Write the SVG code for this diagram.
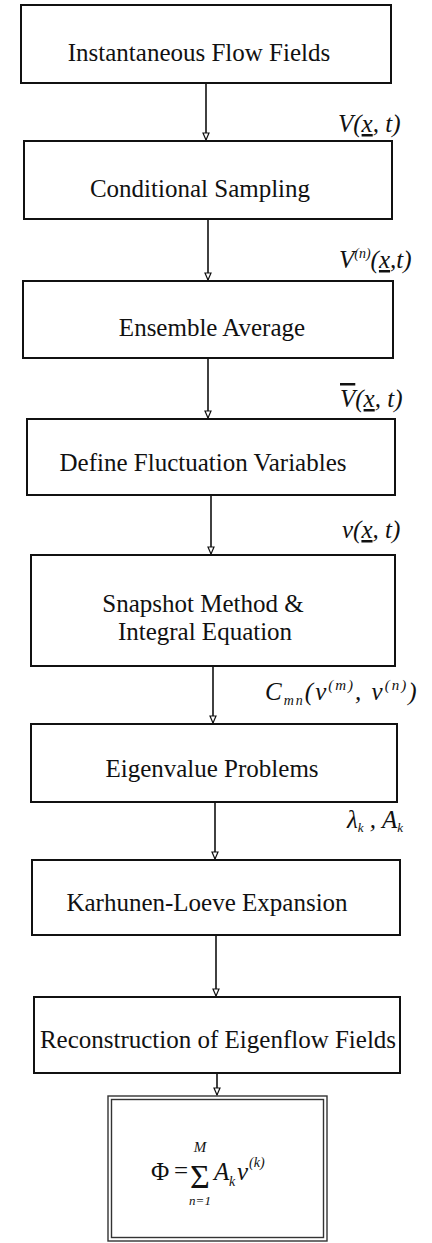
<svg xmlns="http://www.w3.org/2000/svg" width="432" height="1243" viewBox="0 0 432 1243">
<style>
.box{fill:#fff;stroke:#111;stroke-width:2}
.dbl{fill:none;stroke:#333;stroke-width:1.4}
.t{font-family:"Liberation Serif","Times New Roman",serif;font-size:25px;fill:#111;text-anchor:middle}
.lab{font-family:"Liberation Serif","Times New Roman",serif;font-size:25px;font-style:italic;fill:#111}
.m{font-family:"Liberation Serif","Times New Roman",serif;font-style:italic;fill:#111}
.mu{font-family:"Liberation Serif","Times New Roman",serif;fill:#111}
.conn{stroke:#111;stroke-width:1.6;fill:none}
</style>
<defs>
<marker id="ah" markerUnits="userSpaceOnUse" markerWidth="10" markerHeight="10" refX="8" refY="4" orient="auto" viewBox="0 0 10 8">
<path d="M1,1 L8,4 L1,7 Z" fill="#fff" stroke="#111" stroke-width="1.2"/>
</marker>
</defs>
<g id="connectors">
<line class="conn" x1="206" y1="83" x2="206" y2="140" marker-end="url(#ah)"/>
<line class="conn" x1="208" y1="219" x2="208" y2="280" marker-end="url(#ah)"/>
<line class="conn" x1="208" y1="358" x2="208" y2="418" marker-end="url(#ah)"/>
<line class="conn" x1="211" y1="495" x2="211" y2="554" marker-end="url(#ah)"/>
<line class="conn" x1="213" y1="666" x2="213" y2="723" marker-end="url(#ah)"/>
<line class="conn" x1="215" y1="802" x2="215" y2="859" marker-end="url(#ah)"/>
<line class="conn" x1="216" y1="935" x2="216" y2="996" marker-end="url(#ah)"/>
<line class="conn" x1="217" y1="1073" x2="217" y2="1095" marker-end="url(#ah)"/>
</g>
<g id="n1"><rect class="box" x="21" y="5" width="370" height="78"/><text class="t" x="199" y="61">Instantaneous Flow Fields</text></g>
<g id="n2"><rect class="box" x="24" y="141" width="368" height="78"/><text class="t" x="200" y="197">Conditional Sampling</text></g>
<g id="n3"><rect class="box" x="23" y="281" width="370" height="77"/><text class="t" x="212" y="336">Ensemble Average</text></g>
<g id="n4"><rect class="box" x="27" y="419" width="368" height="76"/><text class="t" x="203" y="471">Define Fluctuation Variables</text></g>
<g id="n5"><rect class="box" x="31" y="555" width="364" height="111"/><text class="t" x="203" y="612">Snapshot Method &amp;</text><text class="t" x="205" y="640">Integral Equation</text></g>
<g id="n6"><rect class="box" x="31" y="724" width="366" height="78"/><text class="t" x="212" y="777">Eigenvalue Problems</text></g>
<g id="n7"><rect class="box" x="32" y="860" width="368" height="75"/><text class="t" x="207" y="911">Karhunen-Loeve Expansion</text></g>
<g id="n8"><rect class="box" x="34" y="997" width="366" height="76"/><text class="t" x="218" y="1048">Reconstruction of Eigenflow Fields</text></g>
<g id="n9">
<rect x="108" y="1096" width="219" height="145" fill="#fff" stroke="none"/>
<rect class="dbl" x="108" y="1096" width="219" height="145"/>
<rect class="dbl" x="111.5" y="1099.5" width="212" height="138"/>
<text class="mu" x="151" y="1180" font-size="25">Φ</text>
<text class="mu" x="174" y="1179" font-size="25">=</text>
<text class="mu" x="190" y="1188" font-size="34">Σ</text>
<text class="m" x="200" y="1152" font-size="15" text-anchor="middle">M</text>
<text class="m" x="200" y="1205" font-size="13" text-anchor="middle">n=1</text>
<text class="m" x="214" y="1180" font-size="25">A</text>
<text class="m" x="229" y="1186" font-size="14">k</text>
<text class="m" x="237" y="1180" font-size="25">v</text>
<text class="m" x="249" y="1167" font-size="14">(k)</text>
</g>
<g id="labels">
<text class="lab" x="338" y="132">V(<tspan text-decoration="underline">x</tspan>, t)</text>
<text class="lab" x="339" y="268">V<tspan font-size="14" dy="-10">(n)</tspan><tspan dy="10">(<tspan text-decoration="underline">x</tspan>,t)</tspan></text>
<text class="lab" x="340" y="407"><tspan text-decoration="overline">V</tspan>(<tspan text-decoration="underline">x</tspan>, t)</text>
<text class="lab" x="342" y="538">v(<tspan text-decoration="underline">x</tspan>, t)</text>
<text class="lab" x="265" y="700" letter-spacing="2">C<tspan font-size="14" dy="5">mn</tspan><tspan dy="-5">(v</tspan><tspan font-size="15" dy="-10">(m)</tspan><tspan dy="10">, v</tspan><tspan font-size="15" dy="-10">(n)</tspan><tspan dy="10">)</tspan></text>
<text class="lab" x="347" y="828">λ<tspan font-size="13" dy="4">k</tspan><tspan dy="-4"> , A</tspan><tspan font-size="13" dy="4">k</tspan></text>
</g>
</svg>
